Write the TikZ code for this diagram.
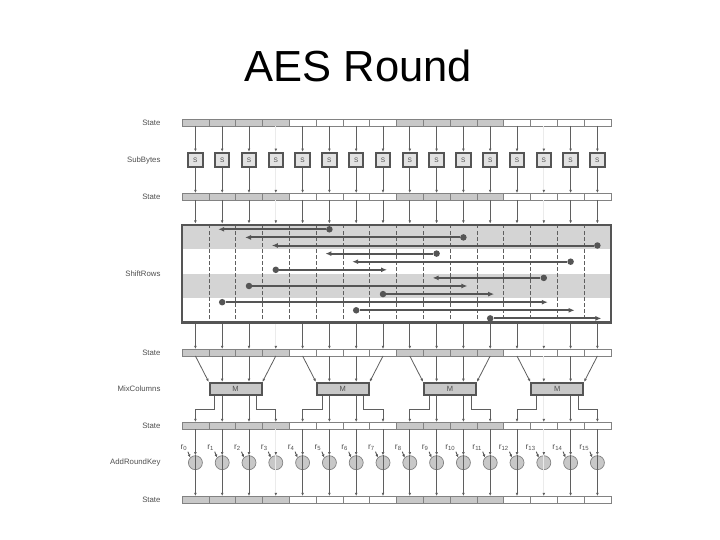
\documentclass[tikz,border=0pt]{standalone}
\usepackage{fontspec}
\setmainfont{Liberation Sans}
\usepackage{tikz}
\usetikzlibrary{arrows.meta}

\definecolor{cellgray}{RGB}{200,200,200}
\definecolor{bandgray}{RGB}{212,212,212}
\definecolor{sfill}{RGB}{226,226,226}
\definecolor{darkline}{RGB}{85,85,85}
\definecolor{thinline}{RGB}{95,95,95}
\definecolor{edgegray}{RGB}{130,130,130}
\definecolor{labelgray}{RGB}{80,80,80}

\begin{document}
\begin{tikzpicture}[x=1pt,y=-1pt,
    lbl/.style={anchor=east,font=\fontsize{7.8}{9}\selectfont,text=labelgray},
    cell/.style={draw=edgegray,line width=0.6pt,minimum width=26.8pt,minimum height=7pt,inner sep=0pt,outer sep=0pt},
    cellx/.code={\pgfmathtruncatemacro\grp{#1/4}\ifodd\grp\tikzset{fill=white}\else\tikzset{fill=cellgray}\fi},
    sbox/.style={draw=darkline,line width=2pt,fill=sfill,minimum size=14.5pt,inner sep=0pt,font=\fontsize{6.5}{6.5}\selectfont,text=labelgray},
    mbox/.style={draw=darkline,line width=1.8pt,fill=cellgray,minimum width=52pt,minimum height=12.5pt,inner sep=0pt,font=\fontsize{7.5}{7.5}\selectfont,text=labelgray},
    key/.style={circle,draw=edgegray,line width=0.7pt,fill=cellgray,minimum size=14pt,inner sep=0pt},
    col/.style={draw=thinline,line width=0.8pt,-{Latex[length=3.2pt,width=2.8pt]}},
    faint/.style={draw=black!8,line width=0.8pt,-{Latex[length=3.2pt,width=2.8pt,color=thinline]}},
    colx/.code={\ifnum#1=3 \tikzset{faint}\else\ifnum#1=13 \tikzset{faint}\else\tikzset{col}\fi\fi},
    moverow/.style={draw=darkline,line width=2pt,-{Latex[length=6pt,width=5pt]}},
    dot/.style={circle,fill=darkline,minimum size=6.5pt,inner sep=0pt},
    keyarrow/.style={draw=darkline,line width=0.9pt,-{Latex[length=3pt,width=2.8pt]}},
  ]
    \fill[white] (0,0) rectangle (720,540);% page
    \useasboundingbox (0,0) rectangle (720,540);

    \node[font=\fontsize{43.5}{43.5}\selectfont] (title) at (358.5,66) {AES Round};% title

    % row labels
    \node[lbl] (l1) at (164,122.5) {State};
    \node[lbl] (l2) at (164,160) {SubBytes};
    \node[lbl] (l3) at (164,196.5) {State};
    \node[lbl] (l4) at (164,273.75) {ShiftRows};
    \node[lbl] (l5) at (164,352.5) {State};
    \node[lbl] (l6) at (164,389) {MixColumns};
    \node[lbl] (l7) at (164,425.5) {State};
    \node[lbl] (l8) at (164,462.7) {AddRoundKey};
    \node[lbl] (l9) at (164,499.5) {State};

    % state bars
    \foreach \i in {0,...,15}
      \foreach \b/\y in {a/122.5,b/196.5,c/352.5,d/425.5,e/499.5}
        \node[cell,cellx=\i] (\b\i) at ({195.4+26.8*\i},\y) {};

    % SubBytes
    \foreach \i in {0,...,15}{
      \node[sbox] (s\i) at ({195.4+26.8*\i},160) {S};
      \draw[colx=\i] (a\i.south) -- (s\i.north);
      \draw[colx=\i] (s\i.south) -- (b\i.north);
    }

    % ShiftRows
    \fill[bandgray] (182,225) rectangle (611,249.4);% rows 1 and 3
    \fill[bandgray] (182,273.75) rectangle (611,298.1);
    \foreach \k in {1,...,15}
      \draw[thinline,line width=0.6pt,dash pattern=on 3.5pt off 2.5pt] ({182+26.8*\k},225) -- ({182+26.8*\k},322.5);
    \node[draw=darkline,line width=2.8pt,minimum width=429pt,minimum height=97.5pt,inner sep=0pt] (sr) at (396.5,273.75) {};
    \foreach \i in {0,...,15}{
      \draw[colx=\i] (b\i.south) -- (b\i.south |- sr.north);
      \draw[colx=\i] (sr.south -| c\i) -- (c\i.north);
    }
    \foreach \src/\dst [count=\k from 0] in {5/1,10/2,15/3,9/5,14/6,3/7,13/9,2/10,7/11,1/13,6/14,11/15}{
      \node[dot] (p\k) at ({195.4+26.8*\src},{229.3+8.1*\k}) {};
      \coordinate (q\k) at ({195.4+26.8*\dst},{229.3+8.1*\k});
      \draw[moverow,shorten >=-4pt] (p\k) -- (q\k);
    }

    % MixColumns
    \foreach \g in {0,...,3}{
      \pgfmathtruncatemacro\ia{4*\g}
      \pgfmathtruncatemacro\ib{4*\g+1}
      \pgfmathtruncatemacro\ic{4*\g+2}
      \pgfmathtruncatemacro\id{4*\g+3}
      \node[mbox] (m\g) at ({235.6+107.2*\g},389) {M};
      \draw[col] (c\ia.south) -- (m\g.north west);
      \draw[colx=\ib] (c\ib.south) -- (c\ib.south |- m\g.north);
      \draw[colx=\ic] (c\ic.south) -- (c\ic.south |- m\g.north);
      \draw[col] (c\id.south) -- (m\g.north east);
      \draw[col] ([xshift=6pt]m\g.south west) -- ++(0,13) -| (d\ia.north);
      \draw[colx=\ib] (m\g.south -| d\ib) -- (d\ib.north);
      \draw[colx=\ic] (m\g.south -| d\ic) -- (d\ic.north);
      \draw[col] ([xshift=-6pt]m\g.south east) -- ++(0,13) -| (d\id.north);
    }

    % AddRoundKey
    \foreach \i in {0,...,15}{
      \node[key] (k\i) at ({195.4+26.8*\i},462.7) {};
      \node[anchor=east,inner sep=0.5pt,font=\fontsize{8.5}{8.5}\selectfont,text=labelgray] (r\i) at ({195.4+26.8*\i-7.5},448) {r\textsubscript{\i}};
      \draw[colx=\i] (d\i.south) -- (k\i.north);
      \draw[colx=\i] (k\i.north) -- (e\i.north);
      \draw[keyarrow] (r\i.south east) -- (k\i.north west);
    }
\end{tikzpicture}
\end{document}
